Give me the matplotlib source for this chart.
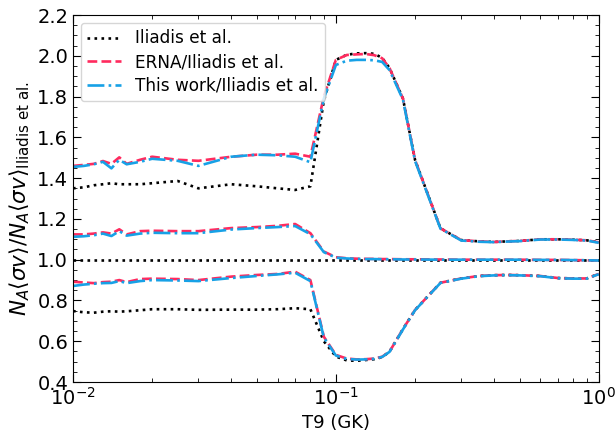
import numpy as np
import matplotlib
matplotlib.use('Agg')
import matplotlib.pyplot as plt
from matplotlib.ticker import AutoMinorLocator

# temperaturas (GK)
t9 = [0.01, 0.011, 0.012, 0.013, 0.014, 0.015, 0.016, 0.018, 0.02, 0.025,
      0.03, 0.04, 0.05, 0.06, 0.07, 0.08, 0.09, 0.1, 0.11, 0.12, 0.13, 0.14,
      0.15, 0.16, 0.18, 0.2, 0.25, 0.3, 0.35, 0.4, 0.45, 0.5, 0.6, 0.7, 0.8,
      0.9, 1.0]

# Iliadis et al. (normalizado a su mediana)
ili_alto = [1.35, 1.355, 1.365, 1.37, 1.375, 1.37, 1.37, 1.37, 1.375, 1.386,
            1.35, 1.37, 1.36, 1.35, 1.342, 1.36, 1.78, 1.98, 2.005, 2.012,
            2.013, 2.01, 1.99, 1.94, 1.79, 1.49, 1.154, 1.096, 1.09, 1.087,
            1.09, 1.092, 1.10, 1.10, 1.098, 1.095, 1.085]
ili_med = [1.0] * len(t9)
ili_bajo = [0.748, 0.742, 0.74, 0.745, 0.747, 0.745, 0.747, 0.752, 0.757,
            0.757, 0.754, 0.755, 0.755, 0.757, 0.762, 0.757, 0.60, 0.525,
            0.506, 0.504, 0.508, 0.512, 0.522, 0.549, 0.66, 0.753, 0.887,
            0.908, 0.92, 0.924, 0.925, 0.924, 0.92, 0.91, 0.908, 0.908, 0.93]

# ERNA / Iliadis
erna_alto = [1.46, 1.465, 1.47, 1.484, 1.47, 1.502, 1.47, 1.49, 1.505, 1.49,
             1.485, 1.505, 1.515, 1.515, 1.52, 1.505, 1.80, 1.98, 2.004,
             2.007, 2.009, 2.003, 1.988, 1.94, 1.79, 1.49, 1.154, 1.096, 1.09,
             1.087, 1.09, 1.092, 1.10, 1.10, 1.098, 1.095, 1.085]
erna_med = [1.124, 1.124, 1.128, 1.134, 1.128, 1.149, 1.124, 1.14, 1.142,
            1.14, 1.14, 1.155, 1.16, 1.166, 1.175, 1.13, 1.04, 1.012, 1.007,
            1.005, 1.004, 1.004, 1.003, 1.003, 1.002, 1.002, 1.001, 1.0, 1.0,
            1.0, 1.0, 1.0, 0.999, 0.999, 0.998, 0.997, 0.996]
erna_bajo = [0.892, 0.888, 0.885, 0.89, 0.892, 0.9, 0.89, 0.905, 0.907,
             0.905, 0.9, 0.917, 0.925, 0.93, 0.941, 0.90, 0.622, 0.533,
             0.515, 0.511, 0.512, 0.515, 0.524, 0.549, 0.66, 0.753, 0.887,
             0.908, 0.92, 0.924, 0.925, 0.924, 0.92, 0.91, 0.908, 0.908, 0.93]

# Este trabajo / Iliadis
tw_alto = [1.455, 1.46, 1.468, 1.48, 1.448, 1.49, 1.468, 1.48, 1.495, 1.485,
           1.46, 1.505, 1.515, 1.512, 1.505, 1.478, 1.79, 1.955, 1.976,
           1.98, 1.98, 1.978, 1.97, 1.93, 1.785, 1.485, 1.152, 1.094, 1.088,
           1.086, 1.089, 1.091, 1.099, 1.099, 1.097, 1.094, 1.083]
tw_med = [1.112, 1.115, 1.12, 1.128, 1.116, 1.14, 1.118, 1.128, 1.132,
          1.13, 1.13, 1.148, 1.155, 1.16, 1.165, 1.125, 1.037, 1.01, 1.006,
          1.004, 1.003, 1.003, 1.002, 1.002, 1.001, 1.001, 1.0, 1.0, 1.0,
          1.0, 1.0, 1.0, 0.999, 0.999, 0.998, 0.997, 0.996]
tw_bajo = [0.871, 0.878, 0.882, 0.885, 0.886, 0.895, 0.885, 0.895, 0.9,
           0.898, 0.895, 0.91, 0.92, 0.928, 0.936, 0.895, 0.618, 0.53,
           0.513, 0.51, 0.511, 0.514, 0.523, 0.548, 0.658, 0.752, 0.886,
           0.907, 0.919, 0.923, 0.924, 0.923, 0.919, 0.909, 0.907, 0.907, 0.929]

plt.rcParams['font.size'] = 12
plt.rcParams['mathtext.fontset'] = 'dejavusans'

fig = plt.figure(figsize=(6.16, 4.32), dpi=100)
ax = fig.add_axes([0.1185, 0.1157, 0.8535, 0.8495])

c_rojo = '#ff2a5e'
c_azul = '#17a1e6'

for i, serie in enumerate([ili_alto, ili_med, ili_bajo]):
    ax.plot(t9, serie, ':', color='k', lw=1.9,
            label='Iliadis et al.' if i == 0 else None)
for i, serie in enumerate([erna_alto, erna_med, erna_bajo]):
    ax.plot(t9, serie, '--', color=c_rojo, lw=1.9,
            label='ERNA/Iliadis et al.' if i == 0 else None)
for i, serie in enumerate([tw_alto, tw_med, tw_bajo]):
    ax.plot(t9, serie, '-.', color=c_azul, lw=1.9,
            label='This work/Iliadis et al.' if i == 0 else None)

ax.set_xscale('log')
ax.set_xlim(0.01, 1.0)
ax.set_ylim(0.4, 2.2)
ax.set_yticks(np.arange(0.4, 2.21, 0.2))
ax.yaxis.set_minor_locator(AutoMinorLocator(4))
ax.tick_params(which='both', direction='in', top=True, right=True,
               labelsize=14)
ax.tick_params(which='major', length=6)
ax.tick_params(which='minor', length=3)

ax.set_xlabel('T9 (GK)', fontsize=13)
ax.set_ylabel(r'$N_A\langle\sigma v\rangle/N_A\langle\sigma v\rangle_{\rm Iliadis\ et\ al.}$',
              fontsize=15.5)
ax.legend(loc='upper left', fontsize=12.2, labelspacing=0.33,
          borderaxespad=0.45)

fig.savefig('out.png', dpi=100)
